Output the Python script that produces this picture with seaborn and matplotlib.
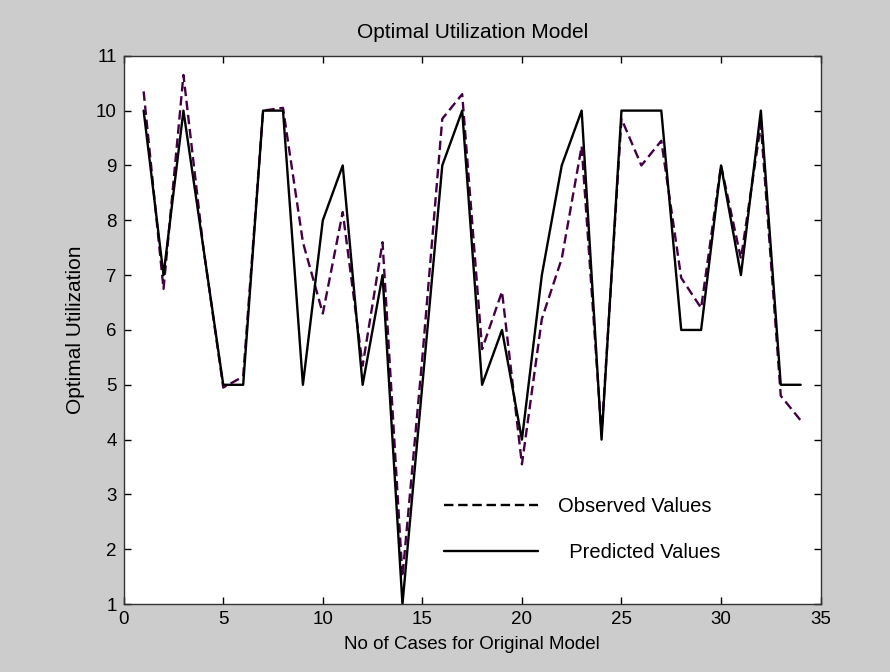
import matplotlib
matplotlib.use("Agg")
import matplotlib.pyplot as plt
from matplotlib.lines import Line2D
import seaborn as sns
import pandas as pd

# case numbers
cases = list(range(1, 35))

# observed values (dashed)
observed = [10.35, 6.75, 10.65, 7.5, 4.95, 5.15, 10.0, 10.05, 7.6, 6.3,
            8.15, 5.35, 7.6, 1.5, 5.5, 9.85, 10.3, 5.65, 6.7, 3.55,
            6.2, 7.3, 9.35, 4.1, 9.85, 9.0, 9.45, 6.95, 6.4, 9.0,
            7.3, 9.75, 4.8, 4.35]

# predicted values (solid)
predicted = [10, 7, 10, 7.5, 5, 5, 10, 10, 5, 8,
             9, 5, 7, 1, 5, 9, 10, 5, 6, 4,
             7, 9, 10, 4, 10, 10, 10, 6, 6, 9,
             7, 10, 5, 5]

df = pd.DataFrame({"case": cases, "observed": observed, "predicted": predicted})

sns.set_style("ticks")
plt.rcParams["font.family"] = ["Liberation Sans", "DejaVu Sans"]
plt.rcParams["text.color"] = "black"
plt.rcParams["axes.labelcolor"] = "black"

fig = plt.figure(figsize=(8.9, 6.72), dpi=100, facecolor="#cccccc")
ax = fig.add_axes([0.139, 0.101, 0.783, 0.816])
ax.set_facecolor("white")

sns.lineplot(data=df, x="case", y="observed", ax=ax, color="#440044",
             linewidth=1.7)
ax.lines[-1].set_dashes((4, 2))
sns.lineplot(data=df, x="case", y="predicted", ax=ax, color="black",
             linewidth=1.7)

ax.set_xlim(0, 35)
ax.set_ylim(1, 11)
ax.set_xticks(range(0, 36, 5))
ax.set_yticks(range(1, 12))
ax.tick_params(direction="in", top=True, right=True, length=5, width=1,
               labelsize=13.5, colors="black", pad=5)
for s in ax.spines.values():
    s.set_visible(True)
    s.set_color("#333333")
    s.set_linewidth(1)

ax.set_title("Optimal Utilization Model", fontsize=15, pad=13)
ax.set_xlabel("No of Cases for Original Model", fontsize=13.5, labelpad=6)
ax.set_ylabel("Optimal Utilization", fontsize=15, labelpad=8)

handles = [Line2D([], [], color="black", linewidth=1.7, dashes=(4, 2)),
           Line2D([], [], color="black", linewidth=1.7)]
ax.legend(handles, ["Observed Values", "  Predicted Values"],
          loc="upper left", bbox_to_anchor=(0.433, 0.228), frameon=False,
          handlelength=4.7, handletextpad=1.0, labelspacing=1.35, fontsize=14.5)

fig.savefig("out.png", dpi=100, facecolor=fig.get_facecolor())
